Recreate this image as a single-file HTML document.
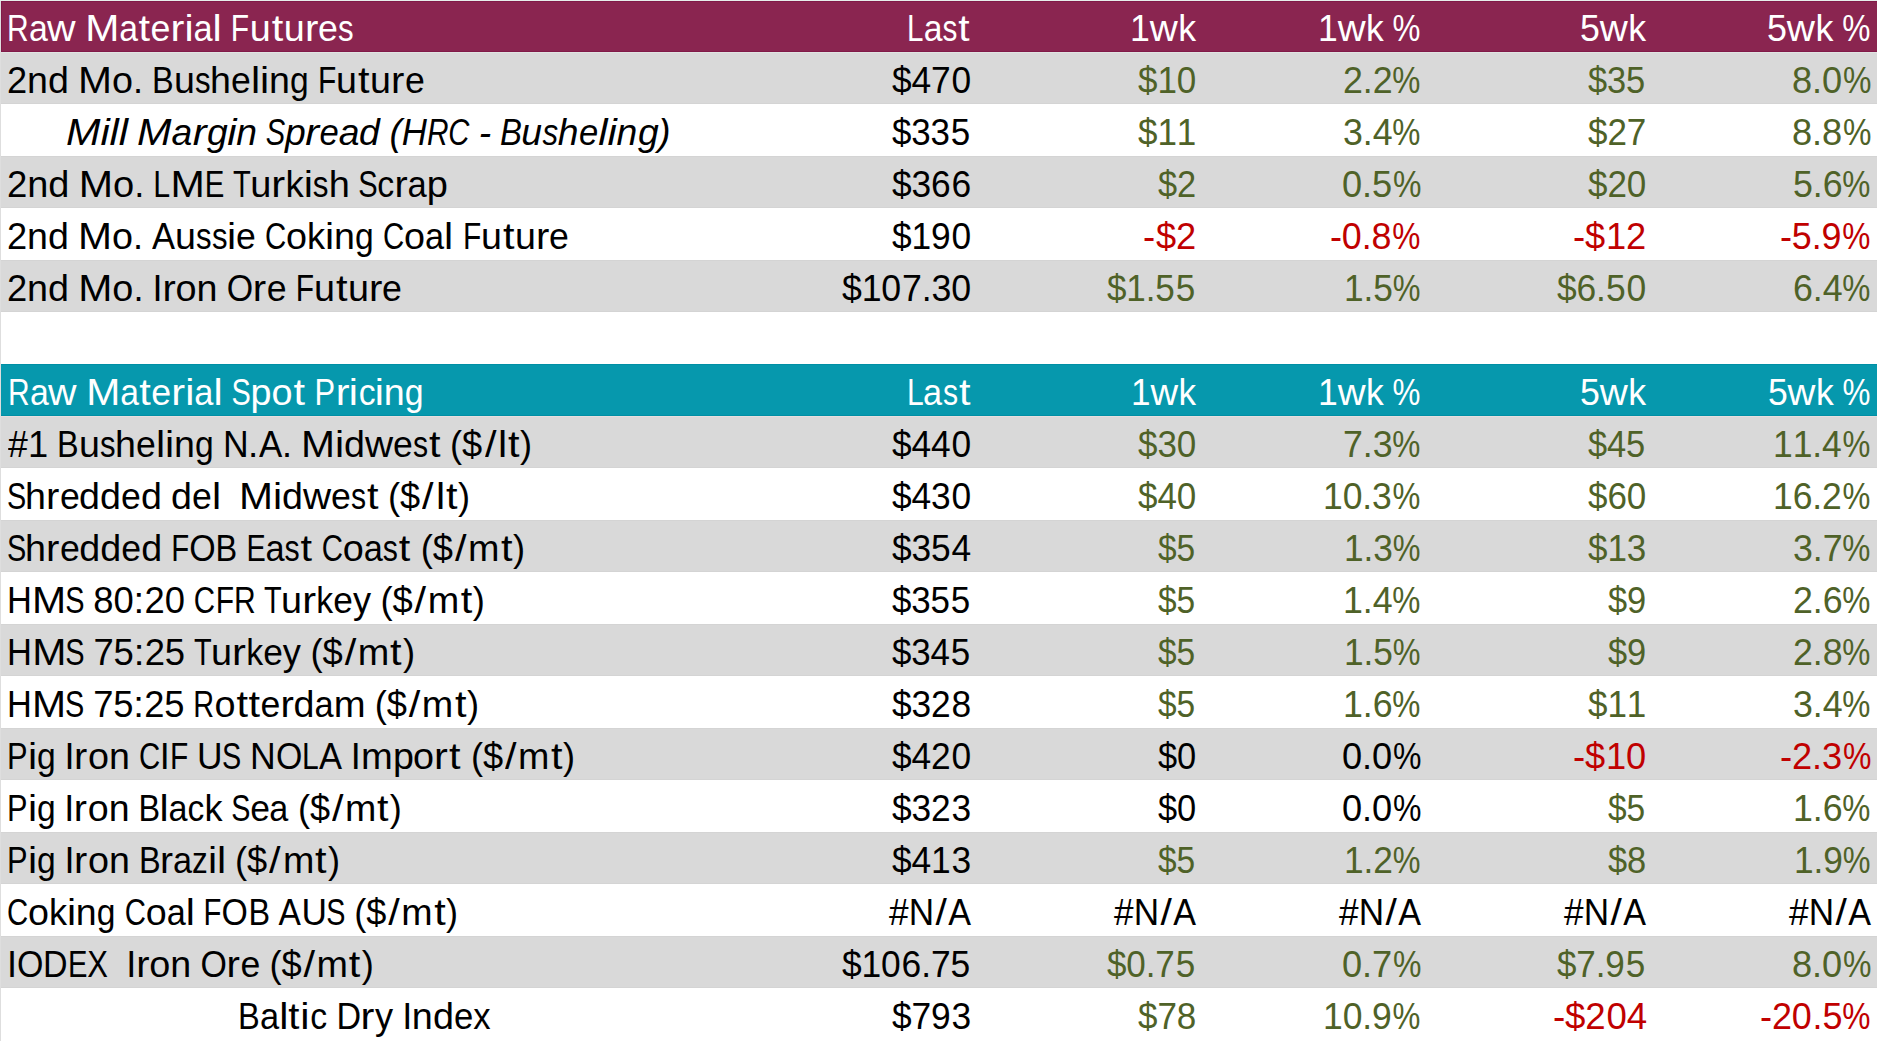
<!DOCTYPE html>
<html lang="en"><head><meta charset="utf-8"><title>Raw Material Futures &amp; Spot Pricing</title>
<style>
html,body{margin:0;padding:0;background:#fff;}
body{position:relative;width:1877px;height:1041px;overflow:hidden;}
.bg{position:absolute;right:0;}
.t{position:absolute;white-space:pre;font-family:'Liberation Sans', Arial, sans-serif;font-size:36px;line-height:52px;height:52px;}
.t>span{display:inline-block;}
.l>span{transform-origin:0 38px;}
.r{text-align:right;}
.r>span{transform-origin:100% 38px;}
.i{font-style:italic;}
.t span span{display:inline-block;transform-origin:0 50%;}
</style></head><body>
<div style="position:absolute;left:0;top:0;width:1px;height:1041px;background:#DEDEDE"></div>
<div style="position:absolute;left:0;top:0;right:0;height:1px;background:#E6EEEA"></div>
<div class="bg" style="top:1px;height:51px;left:1px;background:#811A48"></div>
<div class="bg" style="top:2px;height:49px;left:2px;background:#8A2550"></div>
<div class="bg" style="top:52px;height:1px;left:1px;background:#E0E4E2"></div>
<div class="bg" style="top:53px;height:51px;left:1px;background:#D9D9D9"></div>
<div class="bg" style="top:103px;height:1px;left:1px;background:#D4D4D4"></div>
<div class="bg" style="top:156px;height:52px;left:1px;background:#D9D9D9"></div>
<div class="bg" style="top:156px;height:1px;left:1px;background:#D4D4D4"></div>
<div class="bg" style="top:207px;height:1px;left:1px;background:#D4D4D4"></div>
<div class="bg" style="top:260px;height:52px;left:1px;background:#D9D9D9"></div>
<div class="bg" style="top:260px;height:1px;left:1px;background:#D4D4D4"></div>
<div class="bg" style="top:311px;height:1px;left:1px;background:#D4D4D4"></div>
<div class="bg" style="top:364px;height:52px;left:1px;background:#008FA5"></div>
<div class="bg" style="top:365px;height:50px;left:1px;background:#0698AD"></div>
<div class="bg" style="top:416px;height:1px;left:1px;background:#E6DFDF"></div>
<div class="bg" style="top:417px;height:51px;left:1px;background:#D9D9D9"></div>
<div class="bg" style="top:467px;height:1px;left:1px;background:#D4D4D4"></div>
<div class="bg" style="top:520px;height:52px;left:1px;background:#D9D9D9"></div>
<div class="bg" style="top:520px;height:1px;left:1px;background:#D4D4D4"></div>
<div class="bg" style="top:571px;height:1px;left:1px;background:#D4D4D4"></div>
<div class="bg" style="top:624px;height:52px;left:1px;background:#D9D9D9"></div>
<div class="bg" style="top:624px;height:1px;left:1px;background:#D4D4D4"></div>
<div class="bg" style="top:675px;height:1px;left:1px;background:#D4D4D4"></div>
<div class="bg" style="top:728px;height:52px;left:1px;background:#D9D9D9"></div>
<div class="bg" style="top:728px;height:1px;left:1px;background:#D4D4D4"></div>
<div class="bg" style="top:779px;height:1px;left:1px;background:#D4D4D4"></div>
<div class="bg" style="top:832px;height:52px;left:1px;background:#D9D9D9"></div>
<div class="bg" style="top:832px;height:1px;left:1px;background:#D4D4D4"></div>
<div class="bg" style="top:883px;height:1px;left:1px;background:#D4D4D4"></div>
<div class="bg" style="top:936px;height:52px;left:1px;background:#D9D9D9"></div>
<div class="bg" style="top:936px;height:1px;left:1px;background:#D4D4D4"></div>
<div class="bg" style="top:987px;height:1px;left:1px;background:#D4D4D4"></div>
<div class="t l" style="left:6.994px;top:3px;color:#FFFFFF"><span style="transform:scale(1.003,1)"><span style="transform:scaleX(.831);margin-right:-4.406px">R</span><span style="transform:scaleX(.938);margin-right:-1.234px">a</span><span style="transform:scaleX(1.094);margin-right:2.453px">w</span><span style="transform:scaleX(.899);margin-right:-1.016px"> </span><span style="transform:scaleX(1.134);margin-right:4.016px">M</span><span style="transform:scaleX(.934);margin-right:-1.328px">a</span><span style="transform:scaleX(1.15);margin-left:.686px;margin-right:2.189px">t</span><span style="transform:scaleX(.989);margin-right:-.219px">e</span><span style="transform:scaleX(1.15);margin-left:.038px;margin-right:1.837px">r</span><span style="transform:scaleX(1.141);margin-right:1.125px">i</span><span style="transform:scaleX(.952);margin-right:-.969px">a</span><span style="transform:scaleX(1.143);margin-right:1.141px">l</span><span style="transform:scaleX(.899);margin-right:-1.016px"> </span><span style="transform:scaleX(.831);margin-right:-3.719px">F</span><span style="transform:scaleX(1.044);margin-right:.875px">u</span><span style="transform:scaleX(1.15);margin-left:.905px;margin-right:2.407px">t</span><span style="transform:scaleX(1.044);margin-right:.875px">u</span><span style="transform:scaleX(1.113);margin-right:1.359px">r</span><span style="transform:scaleX(.988);margin-right:-.234px">e</span><span style="transform:scaleX(.865);margin-right:-2.422px">s</span></span></div>
<div class="t r" style="right:907px;top:3px;color:#FFFFFF"><span style="transform:scale(.984,1)"><span style="transform:scaleX(.835);margin-right:-3.312px">L</span><span style="transform:scaleX(.952);margin-right:-.969px">a</span><span style="transform:scaleX(.84);margin-right:-2.875px">s</span><span style="transform:scaleX(1.15);margin-left:.913px;margin-right:2.415px">t</span></span></div>
<div class="t r" style="right:681px;top:3px;color:#FFFFFF"><span style="transform:scale(.985,1)"><span style="transform:scaleX(1.006);margin-right:.125px">1</span><span style="transform:scaleX(1.094);margin-right:2.453px">w</span><span style="transform:scaleX(1.006);margin-right:.109px">k</span></span></div>
<div class="t r" style="right:457px;top:3px;color:#FFFFFF"><span style="transform:scale(.98,1)"><span style="transform:scaleX(1.006);margin-right:.125px">1</span><span style="transform:scaleX(1.094);margin-right:2.453px">w</span><span style="transform:scaleX(1.005);margin-right:.094px">k</span><span style="transform:scaleX(.899);margin-right:-1.016px"> </span><span style="transform:scaleX(.889);margin-right:-3.562px">%</span></span></div>
<div class="t r" style="right:231px;top:3px;color:#FFFFFF"><span style="transform:scale(.985,1)"><span style="transform:scaleX(1.006);margin-right:.125px">5</span><span style="transform:scaleX(1.094);margin-right:2.453px">w</span><span style="transform:scaleX(1.006);margin-right:.109px">k</span></span></div>
<div class="t r" style="right:7px;top:3px;color:#FFFFFF"><span style="transform:scale(.99,1)"><span style="transform:scaleX(1.006);margin-right:.125px">5</span><span style="transform:scaleX(1.094);margin-right:2.453px">w</span><span style="transform:scaleX(1.005);margin-right:.094px">k</span><span style="transform:scaleX(.899);margin-right:-1.016px"> </span><span style="transform:scaleX(.889);margin-right:-3.562px">%</span></span></div>
<div class="t l" style="left:7px;top:55px;color:#000000"><span style="transform:scale(1,1)"><span style="transform:scaleX(1.006);margin-right:.125px">2</span><span style="transform:scaleX(1.044);margin-right:.891px">n</span><span style="transform:scaleX(1.044);margin-right:.875px">d</span><span style="transform:scaleX(.899);margin-right:-1.016px"> </span><span style="transform:scaleX(1.134);margin-right:4.016px">M</span><span style="transform:scaleX(1.048);margin-right:.953px">o</span><span style="transform:scaleX(1.003);margin-right:.031px">.</span><span style="transform:scaleX(.899);margin-right:-1.016px"> </span><span style="transform:scaleX(.902);margin-right:-2.359px">B</span><span style="transform:scaleX(1.044);margin-right:.875px">u</span><span style="transform:scaleX(.865);margin-right:-2.438px">s</span><span style="transform:scaleX(1.044);margin-right:.875px">h</span><span style="transform:scaleX(.988);margin-right:-.234px">e</span><span style="transform:scaleX(1.143);margin-right:1.141px">l</span><span style="transform:scaleX(1.141);margin-right:1.125px">i</span><span style="transform:scaleX(1.044);margin-right:.891px">n</span><span style="transform:scaleX(.934);margin-right:-1.312px">g</span><span style="transform:scaleX(.899);margin-right:-1.016px"> </span><span style="transform:scaleX(.832);margin-right:-3.703px">F</span><span style="transform:scaleX(1.044);margin-right:.875px">u</span><span style="transform:scaleX(1.15);margin-left:.905px;margin-right:2.407px">t</span><span style="transform:scaleX(1.044);margin-right:.875px">u</span><span style="transform:scaleX(1.112);margin-right:1.344px">r</span><span style="transform:scaleX(.99);margin-right:-.203px">e</span></span></div>
<div class="t r" style="right:906.025px;top:55px;color:#000000"><span style="transform:scale(.975,1)"><span style="transform:scaleX(1.006);margin-right:.125px">$</span><span style="transform:scaleX(1.007);margin-right:.141px">4</span><span style="transform:scaleX(1.007);margin-right:.141px">7</span><span style="transform:scaleX(1.008);margin-right:.156px">0</span></span></div>
<div class="t r" style="right:680.034px;top:55px;color:#4F6228"><span style="transform:scale(.966,1)"><span style="transform:scaleX(1.006);margin-right:.125px">$</span><span style="transform:scaleX(1.007);margin-right:.141px">1</span><span style="transform:scaleX(1.008);margin-right:.156px">0</span></span></div>
<div class="t r" style="right:455.987px;top:55px;color:#4F6228"><span style="transform:scale(.987,1)"><span style="transform:scaleX(1.006);margin-right:.125px">2</span><span style="transform:scaleX(1.003);margin-right:.031px">.</span><span style="transform:scaleX(1.007);margin-right:.141px">2</span><span style="transform:scaleX(.889);margin-right:-3.547px">%</span></span></div>
<div class="t r" style="right:231.051px;top:55px;color:#4F6228"><span style="transform:scale(.949,1)"><span style="transform:scaleX(1.006);margin-right:.125px">$</span><span style="transform:scaleX(1.007);margin-right:.141px">3</span><span style="transform:scaleX(1.008);margin-right:.156px">5</span></span></div>
<div class="t r" style="right:5.974px;top:55px;color:#4F6228"><span style="transform:scale(1,1)"><span style="transform:scaleX(1.006);margin-right:.125px">8</span><span style="transform:scaleX(1.003);margin-right:.031px">.</span><span style="transform:scaleX(1.007);margin-right:.141px">0</span><span style="transform:scaleX(.889);margin-right:-3.547px">%</span></span></div>
<div class="t l i" style="left:65.785px;top:107px;color:#000000"><span style="transform:scale(1.014,1)"><span style="transform:scaleX(1.134);margin-right:4.016px">M</span><span style="transform:scaleX(1.143);margin-right:1.141px">i</span><span style="transform:scaleX(1.141);margin-right:1.125px">l</span><span style="transform:scaleX(1.143);margin-right:1.141px">l</span><span style="transform:scaleX(.897);margin-right:-1.031px"> </span><span style="transform:scaleX(1.134);margin-right:4.031px">M</span><span style="transform:scaleX(1.022);margin-right:.438px">a</span><span style="transform:scaleX(1.137);margin-right:1.641px">r</span><span style="transform:scaleX(1.021);margin-right:.422px">g</span><span style="transform:scaleX(1.143);margin-right:1.141px">i</span><span style="transform:scaleX(1.021);margin-right:.422px">n</span><span style="transform:scaleX(.899);margin-right:-1.016px"> </span><span style="transform:scaleX(.8);margin-left:-.606px;margin-right:-5.409px">S</span><span style="transform:scaleX(1.021);margin-right:.422px">p</span><span style="transform:scaleX(1.137);margin-right:1.641px">r</span><span style="transform:scaleX(.949);margin-right:-1.016px">e</span><span style="transform:scaleX(1.021);margin-right:.422px">a</span><span style="transform:scaleX(1.022);margin-right:.438px">d</span><span style="transform:scaleX(.899);margin-right:-1.016px"> </span><span style="transform:scaleX(1.005);margin-right:.062px">(</span><span style="transform:scaleX(.954);margin-right:-1.203px">H</span><span style="transform:scaleX(.817);margin-right:-4.75px">R</span><span style="transform:scaleX(.8);margin-right:-5.202px">C</span><span style="transform:scaleX(.899);margin-right:-1.016px"> </span><span style="transform:scaleX(1.016);margin-right:.188px">-</span><span style="transform:scaleX(.899);margin-right:-1.016px"> </span><span style="transform:scaleX(.901);margin-right:-2.375px">B</span><span style="transform:scaleX(1.022);margin-right:.438px">u</span><span style="transform:scaleX(.86);margin-right:-2.516px">s</span><span style="transform:scaleX(1.021);margin-right:.422px">h</span><span style="transform:scaleX(.949);margin-right:-1.016px">e</span><span style="transform:scaleX(1.141);margin-right:1.125px">l</span><span style="transform:scaleX(1.143);margin-right:1.141px">i</span><span style="transform:scaleX(1.021);margin-right:.422px">n</span><span style="transform:scaleX(1.022);margin-right:.438px">g</span><span style="transform:scaleX(1.007);margin-right:.078px">)</span></span></div>
<div class="t r" style="right:907.038px;top:107px;color:#000000"><span style="transform:scale(.963,1)"><span style="transform:scaleX(1.006);margin-right:.125px">$</span><span style="transform:scaleX(1.007);margin-right:.141px">3</span><span style="transform:scaleX(1.007);margin-right:.141px">3</span><span style="transform:scaleX(1.008);margin-right:.156px">5</span></span></div>
<div class="t r" style="right:680.034px;top:107px;color:#4F6228"><span style="transform:scale(.966,1)"><span style="transform:scaleX(1.006);margin-right:.125px">$</span><span style="transform:scaleX(1.007);margin-right:.141px">1</span><span style="transform:scaleX(1.008);margin-right:.156px">1</span></span></div>
<div class="t r" style="right:455.987px;top:107px;color:#4F6228"><span style="transform:scale(.987,1)"><span style="transform:scaleX(1.006);margin-right:.125px">3</span><span style="transform:scaleX(1.003);margin-right:.031px">.</span><span style="transform:scaleX(1.007);margin-right:.141px">4</span><span style="transform:scaleX(.889);margin-right:-3.547px">%</span></span></div>
<div class="t r" style="right:230.034px;top:107px;color:#4F6228"><span style="transform:scale(.966,1)"><span style="transform:scaleX(1.006);margin-right:.125px">$</span><span style="transform:scaleX(1.007);margin-right:.141px">2</span><span style="transform:scaleX(1.008);margin-right:.156px">7</span></span></div>
<div class="t r" style="right:5.974px;top:107px;color:#4F6228"><span style="transform:scale(1,1)"><span style="transform:scaleX(1.006);margin-right:.125px">8</span><span style="transform:scaleX(1.003);margin-right:.031px">.</span><span style="transform:scaleX(1.007);margin-right:.141px">8</span><span style="transform:scaleX(.889);margin-right:-3.547px">%</span></span></div>
<div class="t l" style="left:6.991px;top:159px;color:#000000"><span style="transform:scale(1.009,1)"><span style="transform:scaleX(1.006);margin-right:.125px">2</span><span style="transform:scaleX(1.044);margin-right:.891px">n</span><span style="transform:scaleX(1.044);margin-right:.875px">d</span><span style="transform:scaleX(.899);margin-right:-1.016px"> </span><span style="transform:scaleX(1.134);margin-right:4.016px">M</span><span style="transform:scaleX(1.048);margin-right:.953px">o</span><span style="transform:scaleX(1.003);margin-right:.031px">.</span><span style="transform:scaleX(.899);margin-right:-1.016px"> </span><span style="transform:scaleX(.835);margin-right:-3.297px">L</span><span style="transform:scaleX(1.134);margin-right:4.031px">M</span><span style="transform:scaleX(.809);margin-right:-4.594px">E</span><span style="transform:scaleX(.899);margin-right:-1.016px"> </span><span style="transform:scaleX(.8);margin-left:-.339px;margin-right:-4.739px">T</span><span style="transform:scaleX(1.044);margin-right:.875px">u</span><span style="transform:scaleX(1.15);margin-left:.038px;margin-right:1.837px">r</span><span style="transform:scaleX(1.005);margin-right:.094px">k</span><span style="transform:scaleX(1.143);margin-right:1.141px">i</span><span style="transform:scaleX(.865);margin-right:-2.438px">s</span><span style="transform:scaleX(1.044);margin-right:.875px">h</span><span style="transform:scaleX(.899);margin-right:-1.016px"> </span><span style="transform:scaleX(.8);margin-left:-.466px;margin-right:-5.269px">S</span><span style="transform:scaleX(.935);margin-right:-1.172px">c</span><span style="transform:scaleX(1.089);margin-right:1.062px">r</span><span style="transform:scaleX(.952);margin-right:-.969px">a</span><span style="transform:scaleX(1.044);margin-right:.891px">p</span></span></div>
<div class="t r" style="right:906.025px;top:159px;color:#000000"><span style="transform:scale(.975,1)"><span style="transform:scaleX(1.006);margin-right:.125px">$</span><span style="transform:scaleX(1.007);margin-right:.141px">3</span><span style="transform:scaleX(1.007);margin-right:.141px">6</span><span style="transform:scaleX(1.008);margin-right:.156px">6</span></span></div>
<div class="t r" style="right:681.051px;top:159px;color:#4F6228"><span style="transform:scale(.949,1)"><span style="transform:scaleX(1.006);margin-right:.125px">$</span><span style="transform:scaleX(1.008);margin-right:.156px">2</span></span></div>
<div class="t r" style="right:455.974px;top:159px;color:#4F6228"><span style="transform:scale(1,1)"><span style="transform:scaleX(1.006);margin-right:.125px">0</span><span style="transform:scaleX(1.003);margin-right:.031px">.</span><span style="transform:scaleX(1.007);margin-right:.141px">5</span><span style="transform:scaleX(.889);margin-right:-3.547px">%</span></span></div>
<div class="t r" style="right:230.034px;top:159px;color:#4F6228"><span style="transform:scale(.966,1)"><span style="transform:scaleX(1.006);margin-right:.125px">$</span><span style="transform:scaleX(1.007);margin-right:.141px">2</span><span style="transform:scaleX(1.008);margin-right:.156px">0</span></span></div>
<div class="t r" style="right:5.987px;top:159px;color:#4F6228"><span style="transform:scale(.987,1)"><span style="transform:scaleX(1.006);margin-right:.125px">5</span><span style="transform:scaleX(1.003);margin-right:.031px">.</span><span style="transform:scaleX(1.007);margin-right:.141px">6</span><span style="transform:scaleX(.889);margin-right:-3.547px">%</span></span></div>
<div class="t l" style="left:7px;top:211px;color:#000000"><span style="transform:scale(1,1)"><span style="transform:scaleX(1.006);margin-right:.125px">2</span><span style="transform:scaleX(1.044);margin-right:.891px">n</span><span style="transform:scaleX(1.044);margin-right:.875px">d</span><span style="transform:scaleX(.899);margin-right:-1.016px"> </span><span style="transform:scaleX(1.134);margin-right:4.016px">M</span><span style="transform:scaleX(1.048);margin-right:.953px">o</span><span style="transform:scaleX(1.003);margin-right:.031px">.</span><span style="transform:scaleX(.899);margin-right:-1.016px"> </span><span style="transform:scaleX(.959);margin-right:-.984px">A</span><span style="transform:scaleX(1.044);margin-right:.875px">u</span><span style="transform:scaleX(.865);margin-right:-2.438px">s</span><span style="transform:scaleX(.865);margin-right:-2.438px">s</span><span style="transform:scaleX(1.143);margin-right:1.141px">i</span><span style="transform:scaleX(.988);margin-right:-.234px">e</span><span style="transform:scaleX(.899);margin-right:-1.016px"> </span><span style="transform:scaleX(.816);margin-right:-4.781px">C</span><span style="transform:scaleX(1.048);margin-right:.953px">o</span><span style="transform:scaleX(1.005);margin-right:.094px">k</span><span style="transform:scaleX(1.143);margin-right:1.141px">i</span><span style="transform:scaleX(1.044);margin-right:.875px">n</span><span style="transform:scaleX(.935);margin-right:-1.297px">g</span><span style="transform:scaleX(.897);margin-right:-1.031px"> </span><span style="transform:scaleX(.816);margin-right:-4.781px">C</span><span style="transform:scaleX(1.048);margin-right:.969px">o</span><span style="transform:scaleX(.952);margin-right:-.969px">a</span><span style="transform:scaleX(1.141);margin-right:1.125px">l</span><span style="transform:scaleX(.899);margin-right:-1.016px"> </span><span style="transform:scaleX(.831);margin-right:-3.719px">F</span><span style="transform:scaleX(1.044);margin-right:.875px">u</span><span style="transform:scaleX(1.15);margin-left:.913px;margin-right:2.415px">t</span><span style="transform:scaleX(1.044);margin-right:.875px">u</span><span style="transform:scaleX(1.112);margin-right:1.344px">r</span><span style="transform:scaleX(.989);margin-right:-.219px">e</span></span></div>
<div class="t r" style="right:906.025px;top:211px;color:#000000"><span style="transform:scale(.975,1)"><span style="transform:scaleX(1.006);margin-right:.125px">$</span><span style="transform:scaleX(1.007);margin-right:.141px">1</span><span style="transform:scaleX(1.007);margin-right:.141px">9</span><span style="transform:scaleX(1.008);margin-right:.156px">0</span></span></div>
<div class="t r" style="right:681px;top:211px;color:#C00000"><span style="transform:scale(1,1)"><span style="transform:scaleX(1.014);margin-right:.172px">-</span><span style="transform:scaleX(1.007);margin-right:.141px">$</span><span style="transform:scaleX(1.008);margin-right:.156px">2</span></span></div>
<div class="t r" style="right:457px;top:211px;color:#C00000"><span style="transform:scale(.989,1)"><span style="transform:scaleX(1.014);margin-right:.172px">-</span><span style="transform:scaleX(1.007);margin-right:.141px">0</span><span style="transform:scaleX(1.003);margin-right:.031px">.</span><span style="transform:scaleX(1.007);margin-right:.141px">8</span><span style="transform:scaleX(.889);margin-right:-3.547px">%</span></span></div>
<div class="t r" style="right:231px;top:211px;color:#C00000"><span style="transform:scale(1,1)"><span style="transform:scaleX(1.014);margin-right:.172px">-</span><span style="transform:scaleX(1.007);margin-right:.141px">$</span><span style="transform:scaleX(1.007);margin-right:.141px">1</span><span style="transform:scaleX(1.008);margin-right:.156px">2</span></span></div>
<div class="t r" style="right:7px;top:211px;color:#C00000"><span style="transform:scale(.989,1)"><span style="transform:scaleX(1.014);margin-right:.172px">-</span><span style="transform:scaleX(1.007);margin-right:.141px">5</span><span style="transform:scaleX(1.003);margin-right:.031px">.</span><span style="transform:scaleX(1.007);margin-right:.141px">9</span><span style="transform:scaleX(.889);margin-right:-3.547px">%</span></span></div>
<div class="t l" style="left:6.997px;top:263px;color:#000000"><span style="transform:scale(1.003,1)"><span style="transform:scaleX(1.006);margin-right:.125px">2</span><span style="transform:scaleX(1.044);margin-right:.891px">n</span><span style="transform:scaleX(1.044);margin-right:.875px">d</span><span style="transform:scaleX(.899);margin-right:-1.016px"> </span><span style="transform:scaleX(1.134);margin-right:4.016px">M</span><span style="transform:scaleX(1.048);margin-right:.953px">o</span><span style="transform:scaleX(1.003);margin-right:.031px">.</span><span style="transform:scaleX(.899);margin-right:-1.016px"> </span><span style="margin-right:.016px">I</span><span style="transform:scaleX(1.103);margin-right:1.234px">r</span><span style="transform:scaleX(1.048);margin-right:.953px">o</span><span style="transform:scaleX(1.044);margin-right:.875px">n</span><span style="transform:scaleX(.899);margin-right:-1.016px"> </span><span style="transform:scaleX(.94);margin-right:-1.672px">O</span><span style="transform:scaleX(1.113);margin-right:1.359px">r</span><span style="transform:scaleX(.988);margin-right:-.234px">e</span><span style="transform:scaleX(.899);margin-right:-1.016px"> </span><span style="transform:scaleX(.831);margin-right:-3.719px">F</span><span style="transform:scaleX(1.044);margin-right:.875px">u</span><span style="transform:scaleX(1.15);margin-left:.905px;margin-right:2.407px">t</span><span style="transform:scaleX(1.044);margin-right:.891px">u</span><span style="transform:scaleX(1.112);margin-right:1.344px">r</span><span style="transform:scaleX(.989);margin-right:-.219px">e</span></span></div>
<div class="t r" style="right:906.015px;top:263px;color:#000000"><span style="transform:scale(.985,1)"><span style="transform:scaleX(1.006);margin-right:.125px">$</span><span style="transform:scaleX(1.007);margin-right:.141px">1</span><span style="transform:scaleX(1.007);margin-right:.141px">0</span><span style="transform:scaleX(1.007);margin-right:.141px">7</span><span style="transform:scaleX(1.003);margin-right:.031px">.</span><span style="transform:scaleX(1.007);margin-right:.141px">3</span><span style="transform:scaleX(1.008);margin-right:.156px">0</span></span></div>
<div class="t r" style="right:682.033px;top:263px;color:#4F6228"><span style="transform:scale(.967,1)"><span style="transform:scaleX(1.006);margin-right:.125px">$</span><span style="transform:scaleX(1.007);margin-right:.141px">1</span><span style="transform:scaleX(1.003);margin-right:.031px">.</span><span style="transform:scaleX(1.007);margin-right:.141px">5</span><span style="transform:scaleX(1.008);margin-right:.156px">5</span></span></div>
<div class="t r" style="right:455.986px;top:263px;color:#4F6228"><span style="transform:scale(.974,1)"><span style="transform:scaleX(1.006);margin-right:.125px">1</span><span style="transform:scaleX(1.003);margin-right:.031px">.</span><span style="transform:scaleX(1.007);margin-right:.141px">5</span><span style="transform:scaleX(.889);margin-right:-3.547px">%</span></span></div>
<div class="t r" style="right:231.022px;top:263px;color:#4F6228"><span style="transform:scale(.978,1)"><span style="transform:scaleX(1.006);margin-right:.125px">$</span><span style="transform:scaleX(1.007);margin-right:.141px">6</span><span style="transform:scaleX(1.003);margin-right:.031px">.</span><span style="transform:scaleX(1.007);margin-right:.141px">5</span><span style="transform:scaleX(1.008);margin-right:.156px">0</span></span></div>
<div class="t r" style="right:5.987px;top:263px;color:#4F6228"><span style="transform:scale(.987,1)"><span style="transform:scaleX(1.006);margin-right:.125px">6</span><span style="transform:scaleX(1.003);margin-right:.031px">.</span><span style="transform:scaleX(1.007);margin-right:.141px">4</span><span style="transform:scaleX(.889);margin-right:-3.547px">%</span></span></div>
<div class="t l" style="left:7.995px;top:367px;color:#FFFFFF"><span style="transform:scale(1.002,1)"><span style="transform:scaleX(.831);margin-right:-4.406px">R</span><span style="transform:scaleX(.938);margin-right:-1.234px">a</span><span style="transform:scaleX(1.094);margin-right:2.453px">w</span><span style="transform:scaleX(.899);margin-right:-1.016px"> </span><span style="transform:scaleX(1.134);margin-right:4.016px">M</span><span style="transform:scaleX(.934);margin-right:-1.328px">a</span><span style="transform:scaleX(1.15);margin-left:.686px;margin-right:2.189px">t</span><span style="transform:scaleX(.989);margin-right:-.219px">e</span><span style="transform:scaleX(1.15);margin-left:.038px;margin-right:1.837px">r</span><span style="transform:scaleX(1.141);margin-right:1.125px">i</span><span style="transform:scaleX(.952);margin-right:-.969px">a</span><span style="transform:scaleX(1.143);margin-right:1.141px">l</span><span style="transform:scaleX(.899);margin-right:-1.016px"> </span><span style="transform:scaleX(.8);margin-left:-.466px;margin-right:-5.269px">S</span><span style="transform:scaleX(1.044);margin-right:.875px">p</span><span style="transform:scaleX(1.048);margin-right:.953px">o</span><span style="transform:scaleX(1.15);margin-left:.905px;margin-right:2.407px">t</span><span style="transform:scaleX(.899);margin-right:-1.016px"> </span><span style="transform:scaleX(.856);margin-right:-3.453px">P</span><span style="transform:scaleX(1.15);margin-left:.038px;margin-right:1.837px">r</span><span style="transform:scaleX(1.141);margin-right:1.125px">i</span><span style="transform:scaleX(.935);margin-right:-1.172px">c</span><span style="transform:scaleX(1.143);margin-right:1.141px">i</span><span style="transform:scaleX(1.044);margin-right:.875px">n</span><span style="transform:scaleX(.936);margin-right:-1.281px">g</span></span></div>
<div class="t r" style="right:906px;top:367px;color:#FFFFFF"><span style="transform:scale(1,1)"><span style="transform:scaleX(.835);margin-right:-3.312px">L</span><span style="transform:scaleX(.952);margin-right:-.969px">a</span><span style="transform:scaleX(.84);margin-right:-2.875px">s</span><span style="transform:scaleX(1.15);margin-left:.913px;margin-right:2.415px">t</span></span></div>
<div class="t r" style="right:681px;top:367px;color:#FFFFFF"><span style="transform:scale(.969,1)"><span style="transform:scaleX(1.006);margin-right:.125px">1</span><span style="transform:scaleX(1.094);margin-right:2.453px">w</span><span style="transform:scaleX(1.006);margin-right:.109px">k</span></span></div>
<div class="t r" style="right:457px;top:367px;color:#FFFFFF"><span style="transform:scale(.98,1)"><span style="transform:scaleX(1.006);margin-right:.125px">1</span><span style="transform:scaleX(1.094);margin-right:2.453px">w</span><span style="transform:scaleX(1.005);margin-right:.094px">k</span><span style="transform:scaleX(.899);margin-right:-1.016px"> </span><span style="transform:scaleX(.889);margin-right:-3.562px">%</span></span></div>
<div class="t r" style="right:231px;top:367px;color:#FFFFFF"><span style="transform:scale(.985,1)"><span style="transform:scaleX(1.006);margin-right:.125px">5</span><span style="transform:scaleX(1.094);margin-right:2.453px">w</span><span style="transform:scaleX(1.006);margin-right:.109px">k</span></span></div>
<div class="t r" style="right:7px;top:367px;color:#FFFFFF"><span style="transform:scale(.981,1)"><span style="transform:scaleX(1.006);margin-right:.125px">5</span><span style="transform:scaleX(1.094);margin-right:2.453px">w</span><span style="transform:scaleX(1.005);margin-right:.094px">k</span><span style="transform:scaleX(.899);margin-right:-1.016px"> </span><span style="transform:scaleX(.889);margin-right:-3.562px">%</span></span></div>
<div class="t l" style="left:8px;top:419px;color:#000000"><span style="transform:scale(1,1)"><span style="transform:scaleX(.989);margin-right:-.219px">#</span><span style="transform:scaleX(1.007);margin-right:.141px">1</span><span style="transform:scaleX(.899);margin-right:-1.016px"> </span><span style="transform:scaleX(.901);margin-right:-2.375px">B</span><span style="transform:scaleX(1.044);margin-right:.875px">u</span><span style="transform:scaleX(.865);margin-right:-2.422px">s</span><span style="transform:scaleX(1.044);margin-right:.875px">h</span><span style="transform:scaleX(.988);margin-right:-.234px">e</span><span style="transform:scaleX(1.141);margin-right:1.125px">l</span><span style="transform:scaleX(1.143);margin-right:1.141px">i</span><span style="transform:scaleX(1.044);margin-right:.875px">n</span><span style="transform:scaleX(.935);margin-right:-1.297px">g</span><span style="transform:scaleX(.899);margin-right:-1.016px"> </span><span style="transform:scaleX(.988);margin-right:-.312px">N</span><span style="transform:scaleX(1.027);margin-right:.266px">.</span><span style="transform:scaleX(.969);margin-right:-.75px">A</span><span style="margin-right:.016px">.</span><span style="transform:scaleX(.899);margin-right:-1.016px"> </span><span style="transform:scaleX(1.134);margin-right:4.031px">M</span><span style="transform:scaleX(1.141);margin-right:1.125px">i</span><span style="transform:scaleX(1.044);margin-right:.891px">d</span><span style="transform:scaleX(1.081);margin-right:2.094px">w</span><span style="transform:scaleX(.988);margin-right:-.234px">e</span><span style="transform:scaleX(.84);margin-right:-2.875px">s</span><span style="transform:scaleX(1.15);margin-left:.905px;margin-right:2.407px">t</span><span style="transform:scaleX(.899);margin-right:-1.016px"> </span><span style="transform:scaleX(1.005);margin-right:.062px">(</span><span style="transform:scaleX(1.007);margin-right:.141px">$</span><span style="transform:scaleX(1.15);margin-left:1.929px;margin-right:3.431px">/</span><span style="transform:scaleX(1.141);margin-right:1.125px">l</span><span style="transform:scaleX(1.15);margin-left:.905px;margin-right:2.407px">t</span><span style="transform:scaleX(1.008);margin-right:.094px">)</span></span></div>
<div class="t r" style="right:906.025px;top:419px;color:#000000"><span style="transform:scale(.975,1)"><span style="transform:scaleX(1.006);margin-right:.125px">$</span><span style="transform:scaleX(1.007);margin-right:.141px">4</span><span style="transform:scaleX(1.007);margin-right:.141px">4</span><span style="transform:scaleX(1.008);margin-right:.156px">0</span></span></div>
<div class="t r" style="right:680.034px;top:419px;color:#4F6228"><span style="transform:scale(.966,1)"><span style="transform:scaleX(1.006);margin-right:.125px">$</span><span style="transform:scaleX(1.007);margin-right:.141px">3</span><span style="transform:scaleX(1.008);margin-right:.156px">0</span></span></div>
<div class="t r" style="right:455.987px;top:419px;color:#4F6228"><span style="transform:scale(.987,1)"><span style="transform:scaleX(1.006);margin-right:.125px">7</span><span style="transform:scaleX(1.003);margin-right:.031px">.</span><span style="transform:scaleX(1.007);margin-right:.141px">3</span><span style="transform:scaleX(.889);margin-right:-3.547px">%</span></span></div>
<div class="t r" style="right:231.051px;top:419px;color:#4F6228"><span style="transform:scale(.949,1)"><span style="transform:scaleX(1.006);margin-right:.125px">$</span><span style="transform:scaleX(1.007);margin-right:.141px">4</span><span style="transform:scaleX(1.008);margin-right:.156px">5</span></span></div>
<div class="t r" style="right:7px;top:419px;color:#4F6228"><span style="transform:scale(.979,1)"><span style="transform:scaleX(1.006);margin-right:.125px">1</span><span style="transform:scaleX(1.007);margin-right:.141px">1</span><span style="transform:scaleX(1.003);margin-right:.031px">.</span><span style="transform:scaleX(1.007);margin-right:.141px">4</span><span style="transform:scaleX(.889);margin-right:-3.547px">%</span></span></div>
<div class="t l" style="left:7px;top:471px;color:#000000"><span style="transform:scale(1,1)"><span style="transform:scaleX(.8);margin-left:-.466px;margin-right:-5.269px">S</span><span style="transform:scaleX(1.044);margin-right:.875px">h</span><span style="transform:scaleX(1.112);margin-right:1.344px">r</span><span style="transform:scaleX(.989);margin-right:-.219px">e</span><span style="transform:scaleX(1.044);margin-right:.875px">d</span><span style="transform:scaleX(1.044);margin-right:.875px">d</span><span style="transform:scaleX(.988);margin-right:-.234px">e</span><span style="transform:scaleX(1.044);margin-right:.875px">d</span><span style="transform:scaleX(.899);margin-right:-1.016px"> </span><span style="transform:scaleX(1.044);margin-right:.875px">d</span><span style="transform:scaleX(.989);margin-right:-.219px">e</span><span style="transform:scaleX(1.141);margin-right:1.125px">l</span><span style="transform:scaleX(.899);margin-right:-1.016px"> </span><span style="transform:scaleX(.899);margin-right:-1.016px"> </span><span style="transform:scaleX(1.134);margin-right:4.016px">M</span><span style="transform:scaleX(1.143);margin-right:1.141px">i</span><span style="transform:scaleX(1.044);margin-right:.875px">d</span><span style="transform:scaleX(1.081);margin-right:2.094px">w</span><span style="transform:scaleX(.989);margin-right:-.219px">e</span><span style="transform:scaleX(.839);margin-right:-2.891px">s</span><span style="transform:scaleX(1.15);margin-left:.905px;margin-right:2.407px">t</span><span style="transform:scaleX(.899);margin-right:-1.016px"> </span><span style="transform:scaleX(1.007);margin-right:.078px">(</span><span style="transform:scaleX(1.006);margin-right:.125px">$</span><span style="transform:scaleX(1.15);margin-left:1.929px;margin-right:3.431px">/</span><span style="transform:scaleX(1.143);margin-right:1.141px">l</span><span style="transform:scaleX(1.15);margin-left:.905px;margin-right:2.407px">t</span><span style="transform:scaleX(1.007);margin-right:.078px">)</span></span></div>
<div class="t r" style="right:906.025px;top:471px;color:#000000"><span style="transform:scale(.975,1)"><span style="transform:scaleX(1.006);margin-right:.125px">$</span><span style="transform:scaleX(1.007);margin-right:.141px">4</span><span style="transform:scaleX(1.007);margin-right:.141px">3</span><span style="transform:scaleX(1.008);margin-right:.156px">0</span></span></div>
<div class="t r" style="right:680.034px;top:471px;color:#4F6228"><span style="transform:scale(.966,1)"><span style="transform:scaleX(1.006);margin-right:.125px">$</span><span style="transform:scaleX(1.007);margin-right:.141px">4</span><span style="transform:scaleX(1.008);margin-right:.156px">0</span></span></div>
<div class="t r" style="right:457px;top:471px;color:#4F6228"><span style="transform:scale(.979,1)"><span style="transform:scaleX(1.006);margin-right:.125px">1</span><span style="transform:scaleX(1.007);margin-right:.141px">0</span><span style="transform:scaleX(1.003);margin-right:.031px">.</span><span style="transform:scaleX(1.007);margin-right:.141px">3</span><span style="transform:scaleX(.889);margin-right:-3.547px">%</span></span></div>
<div class="t r" style="right:230.034px;top:471px;color:#4F6228"><span style="transform:scale(.966,1)"><span style="transform:scaleX(1.006);margin-right:.125px">$</span><span style="transform:scaleX(1.007);margin-right:.141px">6</span><span style="transform:scaleX(1.008);margin-right:.156px">0</span></span></div>
<div class="t r" style="right:7px;top:471px;color:#4F6228"><span style="transform:scale(.979,1)"><span style="transform:scaleX(1.006);margin-right:.125px">1</span><span style="transform:scaleX(1.007);margin-right:.141px">6</span><span style="transform:scaleX(1.003);margin-right:.031px">.</span><span style="transform:scaleX(1.007);margin-right:.141px">2</span><span style="transform:scaleX(.889);margin-right:-3.547px">%</span></span></div>
<div class="t l" style="left:6.998px;top:523px;color:#000000"><span style="transform:scale(1.002,1)"><span style="transform:scaleX(.8);margin-left:-.466px;margin-right:-5.269px">S</span><span style="transform:scaleX(1.044);margin-right:.875px">h</span><span style="transform:scaleX(1.112);margin-right:1.344px">r</span><span style="transform:scaleX(.989);margin-right:-.219px">e</span><span style="transform:scaleX(1.044);margin-right:.875px">d</span><span style="transform:scaleX(1.044);margin-right:.875px">d</span><span style="transform:scaleX(.988);margin-right:-.234px">e</span><span style="transform:scaleX(1.044);margin-right:.875px">d</span><span style="transform:scaleX(.899);margin-right:-1.016px"> </span><span style="transform:scaleX(.815);margin-right:-4.062px">F</span><span style="transform:scaleX(.941);margin-right:-1.656px">O</span><span style="transform:scaleX(.901);margin-right:-2.375px">B</span><span style="transform:scaleX(.899);margin-right:-1.016px"> </span><span style="transform:scaleX(.8);margin-left:-.223px;margin-right:-5.027px">E</span><span style="transform:scaleX(.952);margin-right:-.969px">a</span><span style="transform:scaleX(.84);margin-right:-2.875px">s</span><span style="transform:scaleX(1.15);margin-left:.905px;margin-right:2.407px">t</span><span style="transform:scaleX(.899);margin-right:-1.016px"> </span><span style="transform:scaleX(.816);margin-right:-4.781px">C</span><span style="transform:scaleX(1.048);margin-right:.953px">o</span><span style="transform:scaleX(.952);margin-right:-.969px">a</span><span style="transform:scaleX(.839);margin-right:-2.891px">s</span><span style="transform:scaleX(1.15);margin-left:.913px;margin-right:2.415px">t</span><span style="transform:scaleX(.897);margin-right:-1.031px"> </span><span style="transform:scaleX(1.007);margin-right:.078px">(</span><span style="transform:scaleX(1.007);margin-right:.141px">$</span><span style="transform:scaleX(1.15);margin-left:1.921px;margin-right:3.423px">/</span><span style="transform:scaleX(1.047);margin-right:1.422px">m</span><span style="transform:scaleX(1.15);margin-left:.905px;margin-right:2.407px">t</span><span style="transform:scaleX(1.008);margin-right:.094px">)</span></span></div>
<div class="t r" style="right:906px;top:523px;color:#000000"><span style="transform:scale(.975,1)"><span style="transform:scaleX(1.006);margin-right:.125px">$</span><span style="transform:scaleX(1.007);margin-right:.141px">3</span><span style="transform:scaleX(1.007);margin-right:.141px">5</span><span style="transform:scaleX(1.008);margin-right:.156px">4</span></span></div>
<div class="t r" style="right:682.077px;top:523px;color:#4F6228"><span style="transform:scale(.923,1)"><span style="transform:scaleX(1.006);margin-right:.125px">$</span><span style="transform:scaleX(1.008);margin-right:.156px">5</span></span></div>
<div class="t r" style="right:455.986px;top:523px;color:#4F6228"><span style="transform:scale(.974,1)"><span style="transform:scaleX(1.006);margin-right:.125px">1</span><span style="transform:scaleX(1.003);margin-right:.031px">.</span><span style="transform:scaleX(1.007);margin-right:.141px">3</span><span style="transform:scaleX(.889);margin-right:-3.547px">%</span></span></div>
<div class="t r" style="right:230.034px;top:523px;color:#4F6228"><span style="transform:scale(.966,1)"><span style="transform:scaleX(1.006);margin-right:.125px">$</span><span style="transform:scaleX(1.007);margin-right:.141px">1</span><span style="transform:scaleX(1.008);margin-right:.156px">3</span></span></div>
<div class="t r" style="right:5.987px;top:523px;color:#4F6228"><span style="transform:scale(.987,1)"><span style="transform:scaleX(1.006);margin-right:.125px">3</span><span style="transform:scaleX(1.003);margin-right:.031px">.</span><span style="transform:scaleX(1.007);margin-right:.141px">7</span><span style="transform:scaleX(.889);margin-right:-3.547px">%</span></span></div>
<div class="t l" style="left:6.992px;top:575px;color:#000000"><span style="transform:scale(1.004,1)"><span style="transform:scaleX(.953);margin-right:-1.219px">H</span><span style="transform:scaleX(1.134);margin-right:4.031px">M</span><span style="transform:scaleX(.8);margin-left:-.466px;margin-right:-5.269px">S</span><span style="transform:scaleX(.899);margin-right:-1.016px"> </span><span style="transform:scaleX(1.007);margin-right:.141px">8</span><span style="transform:scaleX(1.007);margin-right:.141px">0</span><span style="transform:scaleX(1.062);margin-right:.625px">:</span><span style="transform:scaleX(1.007);margin-right:.141px">2</span><span style="transform:scaleX(1.007);margin-right:.141px">0</span><span style="transform:scaleX(.899);margin-right:-1.016px"> </span><span style="transform:scaleX(.816);margin-right:-4.781px">C</span><span style="transform:scaleX(.831);margin-right:-3.719px">F</span><span style="transform:scaleX(.831);margin-right:-4.391px">R</span><span style="transform:scaleX(.899);margin-right:-1.016px"> </span><span style="transform:scaleX(.8);margin-left:-.339px;margin-right:-4.739px">T</span><span style="transform:scaleX(1.044);margin-right:.891px">u</span><span style="transform:scaleX(1.15);margin-left:.038px;margin-right:1.837px">r</span><span style="transform:scaleX(.933);margin-right:-1.203px">k</span><span style="transform:scaleX(.976);margin-right:-.484px">e</span><span style="margin-right:.016px">y</span><span style="transform:scaleX(.899);margin-right:-1.016px"> </span><span style="transform:scaleX(1.005);margin-right:.062px">(</span><span style="transform:scaleX(1.007);margin-right:.141px">$</span><span style="transform:scaleX(1.15);margin-left:1.929px;margin-right:3.431px">/</span><span style="transform:scaleX(1.047);margin-right:1.422px">m</span><span style="transform:scaleX(1.15);margin-left:.905px;margin-right:2.407px">t</span><span style="transform:scaleX(1.007);margin-right:.078px">)</span></span></div>
<div class="t r" style="right:907.038px;top:575px;color:#000000"><span style="transform:scale(.963,1)"><span style="transform:scaleX(1.006);margin-right:.125px">$</span><span style="transform:scaleX(1.007);margin-right:.141px">3</span><span style="transform:scaleX(1.007);margin-right:.141px">5</span><span style="transform:scaleX(1.008);margin-right:.156px">5</span></span></div>
<div class="t r" style="right:682.077px;top:575px;color:#4F6228"><span style="transform:scale(.923,1)"><span style="transform:scaleX(1.006);margin-right:.125px">$</span><span style="transform:scaleX(1.008);margin-right:.156px">5</span></span></div>
<div class="t r" style="right:455.986px;top:575px;color:#4F6228"><span style="transform:scale(.987,1)"><span style="transform:scaleX(1.006);margin-right:.125px">1</span><span style="transform:scaleX(1.003);margin-right:.031px">.</span><span style="transform:scaleX(1.007);margin-right:.141px">4</span><span style="transform:scaleX(.889);margin-right:-3.547px">%</span></span></div>
<div class="t r" style="right:231.051px;top:575px;color:#4F6228"><span style="transform:scale(.949,1)"><span style="transform:scaleX(1.006);margin-right:.125px">$</span><span style="transform:scaleX(1.008);margin-right:.156px">9</span></span></div>
<div class="t r" style="right:5.987px;top:575px;color:#4F6228"><span style="transform:scale(.987,1)"><span style="transform:scaleX(1.006);margin-right:.125px">2</span><span style="transform:scaleX(1.003);margin-right:.031px">.</span><span style="transform:scaleX(1.007);margin-right:.141px">6</span><span style="transform:scaleX(.889);margin-right:-3.547px">%</span></span></div>
<div class="t l" style="left:6.99px;top:627px;color:#000000"><span style="transform:scale(1.005,1)"><span style="transform:scaleX(.953);margin-right:-1.219px">H</span><span style="transform:scaleX(1.134);margin-right:4.031px">M</span><span style="transform:scaleX(.8);margin-left:-.466px;margin-right:-5.269px">S</span><span style="transform:scaleX(.899);margin-right:-1.016px"> </span><span style="transform:scaleX(1.007);margin-right:.141px">7</span><span style="transform:scaleX(1.007);margin-right:.141px">5</span><span style="transform:scaleX(1.062);margin-right:.625px">:</span><span style="transform:scaleX(1.007);margin-right:.141px">2</span><span style="transform:scaleX(1.007);margin-right:.141px">5</span><span style="transform:scaleX(.899);margin-right:-1.016px"> </span><span style="transform:scaleX(.8);margin-left:-.339px;margin-right:-4.739px">T</span><span style="transform:scaleX(1.044);margin-right:.875px">u</span><span style="transform:scaleX(1.15);margin-left:.038px;margin-right:1.837px">r</span><span style="transform:scaleX(.934);margin-right:-1.188px">k</span><span style="transform:scaleX(.976);margin-right:-.484px">e</span><span style="margin-right:.016px">y</span><span style="transform:scaleX(.899);margin-right:-1.016px"> </span><span style="transform:scaleX(1.005);margin-right:.062px">(</span><span style="transform:scaleX(1.007);margin-right:.141px">$</span><span style="transform:scaleX(1.15);margin-left:1.929px;margin-right:3.431px">/</span><span style="transform:scaleX(1.047);margin-right:1.422px">m</span><span style="transform:scaleX(1.15);margin-left:.905px;margin-right:2.407px">t</span><span style="transform:scaleX(1.007);margin-right:.078px">)</span></span></div>
<div class="t r" style="right:907.038px;top:627px;color:#000000"><span style="transform:scale(.963,1)"><span style="transform:scaleX(1.006);margin-right:.125px">$</span><span style="transform:scaleX(1.007);margin-right:.141px">3</span><span style="transform:scaleX(1.007);margin-right:.141px">4</span><span style="transform:scaleX(1.008);margin-right:.156px">5</span></span></div>
<div class="t r" style="right:682.077px;top:627px;color:#4F6228"><span style="transform:scale(.923,1)"><span style="transform:scaleX(1.006);margin-right:.125px">$</span><span style="transform:scaleX(1.008);margin-right:.156px">5</span></span></div>
<div class="t r" style="right:455.986px;top:627px;color:#4F6228"><span style="transform:scale(.974,1)"><span style="transform:scaleX(1.006);margin-right:.125px">1</span><span style="transform:scaleX(1.003);margin-right:.031px">.</span><span style="transform:scaleX(1.007);margin-right:.141px">5</span><span style="transform:scaleX(.889);margin-right:-3.547px">%</span></span></div>
<div class="t r" style="right:231.051px;top:627px;color:#4F6228"><span style="transform:scale(.949,1)"><span style="transform:scaleX(1.006);margin-right:.125px">$</span><span style="transform:scaleX(1.008);margin-right:.156px">9</span></span></div>
<div class="t r" style="right:5.987px;top:627px;color:#4F6228"><span style="transform:scale(.987,1)"><span style="transform:scaleX(1.006);margin-right:.125px">2</span><span style="transform:scaleX(1.003);margin-right:.031px">.</span><span style="transform:scaleX(1.007);margin-right:.141px">8</span><span style="transform:scaleX(.889);margin-right:-3.547px">%</span></span></div>
<div class="t l" style="left:6.996px;top:679px;color:#000000"><span style="transform:scale(1.002,1)"><span style="transform:scaleX(.953);margin-right:-1.219px">H</span><span style="transform:scaleX(1.134);margin-right:4.031px">M</span><span style="transform:scaleX(.8);margin-left:-.466px;margin-right:-5.269px">S</span><span style="transform:scaleX(.899);margin-right:-1.016px"> </span><span style="transform:scaleX(1.007);margin-right:.141px">7</span><span style="transform:scaleX(1.007);margin-right:.141px">5</span><span style="transform:scaleX(1.062);margin-right:.625px">:</span><span style="transform:scaleX(1.007);margin-right:.141px">2</span><span style="transform:scaleX(1.007);margin-right:.141px">5</span><span style="transform:scaleX(.899);margin-right:-1.016px"> </span><span style="transform:scaleX(.8);margin-right:-5.202px">R</span><span style="transform:scaleX(1.048);margin-right:.953px">o</span><span style="transform:scaleX(1.15);margin-left:.444px;margin-right:1.946px">t</span><span style="transform:scaleX(1.15);margin-left:.444px;margin-right:1.946px">t</span><span style="transform:scaleX(.988);margin-right:-.234px">e</span><span style="transform:scaleX(1.112);margin-right:1.344px">r</span><span style="transform:scaleX(1.044);margin-right:.875px">d</span><span style="transform:scaleX(.952);margin-right:-.969px">a</span><span style="transform:scaleX(1.059);margin-right:1.781px">m</span><span style="transform:scaleX(.899);margin-right:-1.016px"> </span><span style="transform:scaleX(1.005);margin-right:.062px">(</span><span style="transform:scaleX(1.007);margin-right:.141px">$</span><span style="transform:scaleX(1.15);margin-left:1.929px;margin-right:3.431px">/</span><span style="transform:scaleX(1.047);margin-right:1.422px">m</span><span style="transform:scaleX(1.15);margin-left:.905px;margin-right:2.407px">t</span><span style="transform:scaleX(1.008);margin-right:.094px">)</span></span></div>
<div class="t r" style="right:906.025px;top:679px;color:#000000"><span style="transform:scale(.975,1)"><span style="transform:scaleX(1.006);margin-right:.125px">$</span><span style="transform:scaleX(1.007);margin-right:.141px">3</span><span style="transform:scaleX(1.007);margin-right:.141px">2</span><span style="transform:scaleX(1.008);margin-right:.156px">8</span></span></div>
<div class="t r" style="right:682.077px;top:679px;color:#4F6228"><span style="transform:scale(.923,1)"><span style="transform:scaleX(1.006);margin-right:.125px">$</span><span style="transform:scaleX(1.008);margin-right:.156px">5</span></span></div>
<div class="t r" style="right:455.986px;top:679px;color:#4F6228"><span style="transform:scale(.987,1)"><span style="transform:scaleX(1.006);margin-right:.125px">1</span><span style="transform:scaleX(1.003);margin-right:.031px">.</span><span style="transform:scaleX(1.007);margin-right:.141px">6</span><span style="transform:scaleX(.889);margin-right:-3.547px">%</span></span></div>
<div class="t r" style="right:230.034px;top:679px;color:#4F6228"><span style="transform:scale(.966,1)"><span style="transform:scaleX(1.006);margin-right:.125px">$</span><span style="transform:scaleX(1.007);margin-right:.141px">1</span><span style="transform:scaleX(1.008);margin-right:.156px">1</span></span></div>
<div class="t r" style="right:5.987px;top:679px;color:#4F6228"><span style="transform:scale(.987,1)"><span style="transform:scaleX(1.006);margin-right:.125px">3</span><span style="transform:scaleX(1.003);margin-right:.031px">.</span><span style="transform:scaleX(1.007);margin-right:.141px">4</span><span style="transform:scaleX(.889);margin-right:-3.547px">%</span></span></div>
<div class="t l" style="left:7px;top:731px;color:#000000"><span style="transform:scale(1,1)"><span style="transform:scaleX(.856);margin-right:-3.469px">P</span><span style="transform:scaleX(1.143);margin-right:1.141px">i</span><span style="transform:scaleX(.935);margin-right:-1.297px">g</span><span style="transform:scaleX(.897);margin-right:-1.031px"> </span><span style="margin-right:.016px">I</span><span style="transform:scaleX(1.103);margin-right:1.234px">r</span><span style="transform:scaleX(1.048);margin-right:.953px">o</span><span style="transform:scaleX(1.044);margin-right:.875px">n</span><span style="transform:scaleX(.899);margin-right:-1.016px"> </span><span style="transform:scaleX(.816);margin-right:-4.781px">C</span><span style="margin-right:.016px">I</span><span style="transform:scaleX(.831);margin-right:-3.719px">F</span><span style="transform:scaleX(.899);margin-right:-1.016px"> </span><span style="transform:scaleX(.982);margin-right:-.469px">U</span><span style="transform:scaleX(.8);margin-left:-.458px;margin-right:-5.261px">S</span><span style="transform:scaleX(.897);margin-right:-1.031px"> </span><span style="transform:scaleX(.989);margin-right:-.297px">N</span><span style="transform:scaleX(.94);margin-right:-1.672px">O</span><span style="transform:scaleX(.835);margin-right:-3.297px">L</span><span style="transform:scaleX(.958);margin-right:-1px">A</span><span style="transform:scaleX(.899);margin-right:-1.016px"> </span><span style="margin-right:.016px">I</span><span style="transform:scaleX(1.06);margin-right:1.797px">m</span><span style="transform:scaleX(1.044);margin-right:.875px">p</span><span style="transform:scaleX(1.048);margin-right:.953px">o</span><span style="transform:scaleX(1.15);margin-left:.038px;margin-right:1.837px">r</span><span style="transform:scaleX(1.15);margin-left:.905px;margin-right:2.407px">t</span><span style="transform:scaleX(.899);margin-right:-1.016px"> </span><span style="transform:scaleX(1.005);margin-right:.062px">(</span><span style="transform:scaleX(1.007);margin-right:.141px">$</span><span style="transform:scaleX(1.15);margin-left:1.929px;margin-right:3.431px">/</span><span style="transform:scaleX(1.047);margin-right:1.422px">m</span><span style="transform:scaleX(1.15);margin-left:.905px;margin-right:2.407px">t</span><span style="transform:scaleX(1.007);margin-right:.078px">)</span></span></div>
<div class="t r" style="right:906.025px;top:731px;color:#000000"><span style="transform:scale(.975,1)"><span style="transform:scaleX(1.006);margin-right:.125px">$</span><span style="transform:scaleX(1.007);margin-right:.141px">4</span><span style="transform:scaleX(1.007);margin-right:.141px">2</span><span style="transform:scaleX(1.008);margin-right:.156px">0</span></span></div>
<div class="t r" style="right:681.051px;top:731px;color:#000000"><span style="transform:scale(.949,1)"><span style="transform:scaleX(1.006);margin-right:.125px">$</span><span style="transform:scaleX(1.008);margin-right:.156px">0</span></span></div>
<div class="t r" style="right:455.974px;top:731px;color:#000000"><span style="transform:scale(1,1)"><span style="transform:scaleX(1.006);margin-right:.125px">0</span><span style="transform:scaleX(1.003);margin-right:.031px">.</span><span style="transform:scaleX(1.007);margin-right:.141px">0</span><span style="transform:scaleX(.889);margin-right:-3.547px">%</span></span></div>
<div class="t r" style="right:231px;top:731px;color:#C00000"><span style="transform:scale(1,1)"><span style="transform:scaleX(1.014);margin-right:.172px">-</span><span style="transform:scaleX(1.007);margin-right:.141px">$</span><span style="transform:scaleX(1.007);margin-right:.141px">1</span><span style="transform:scaleX(1.008);margin-right:.156px">0</span></span></div>
<div class="t r" style="right:6px;top:731px;color:#C00000"><span style="transform:scale(1,1)"><span style="transform:scaleX(1.014);margin-right:.172px">-</span><span style="transform:scaleX(1.007);margin-right:.141px">2</span><span style="transform:scaleX(1.003);margin-right:.031px">.</span><span style="transform:scaleX(1.007);margin-right:.141px">3</span><span style="transform:scaleX(.889);margin-right:-3.547px">%</span></span></div>
<div class="t l" style="left:7.005px;top:783px;color:#000000"><span style="transform:scale(.997,1)"><span style="transform:scaleX(.856);margin-right:-3.469px">P</span><span style="transform:scaleX(1.143);margin-right:1.141px">i</span><span style="transform:scaleX(.935);margin-right:-1.297px">g</span><span style="transform:scaleX(.897);margin-right:-1.031px"> </span><span style="margin-right:.016px">I</span><span style="transform:scaleX(1.103);margin-right:1.234px">r</span><span style="transform:scaleX(1.048);margin-right:.953px">o</span><span style="transform:scaleX(1.044);margin-right:.875px">n</span><span style="transform:scaleX(.899);margin-right:-1.016px"> </span><span style="transform:scaleX(.902);margin-right:-2.359px">B</span><span style="transform:scaleX(1.141);margin-right:1.125px">l</span><span style="transform:scaleX(.952);margin-right:-.969px">a</span><span style="transform:scaleX(.935);margin-right:-1.172px">c</span><span style="transform:scaleX(1.005);margin-right:.094px">k</span><span style="transform:scaleX(.899);margin-right:-1.016px"> </span><span style="transform:scaleX(.8);margin-left:-.466px;margin-right:-5.269px">S</span><span style="transform:scaleX(.988);margin-right:-.234px">e</span><span style="transform:scaleX(.952);margin-right:-.969px">a</span><span style="transform:scaleX(.899);margin-right:-1.016px"> </span><span style="transform:scaleX(1.007);margin-right:.078px">(</span><span style="transform:scaleX(1.007);margin-right:.141px">$</span><span style="transform:scaleX(1.15);margin-left:1.921px;margin-right:3.423px">/</span><span style="transform:scaleX(1.047);margin-right:1.422px">m</span><span style="transform:scaleX(1.15);margin-left:.905px;margin-right:2.407px">t</span><span style="transform:scaleX(1.008);margin-right:.094px">)</span></span></div>
<div class="t r" style="right:906.025px;top:783px;color:#000000"><span style="transform:scale(.975,1)"><span style="transform:scaleX(1.006);margin-right:.125px">$</span><span style="transform:scaleX(1.007);margin-right:.141px">3</span><span style="transform:scaleX(1.007);margin-right:.141px">2</span><span style="transform:scaleX(1.008);margin-right:.156px">3</span></span></div>
<div class="t r" style="right:681.051px;top:783px;color:#000000"><span style="transform:scale(.949,1)"><span style="transform:scaleX(1.006);margin-right:.125px">$</span><span style="transform:scaleX(1.008);margin-right:.156px">0</span></span></div>
<div class="t r" style="right:455.974px;top:783px;color:#000000"><span style="transform:scale(1,1)"><span style="transform:scaleX(1.006);margin-right:.125px">0</span><span style="transform:scaleX(1.003);margin-right:.031px">.</span><span style="transform:scaleX(1.007);margin-right:.141px">0</span><span style="transform:scaleX(.889);margin-right:-3.547px">%</span></span></div>
<div class="t r" style="right:232.077px;top:783px;color:#4F6228"><span style="transform:scale(.923,1)"><span style="transform:scaleX(1.006);margin-right:.125px">$</span><span style="transform:scaleX(1.008);margin-right:.156px">5</span></span></div>
<div class="t r" style="right:5.986px;top:783px;color:#4F6228"><span style="transform:scale(.987,1)"><span style="transform:scaleX(1.006);margin-right:.125px">1</span><span style="transform:scaleX(1.003);margin-right:.031px">.</span><span style="transform:scaleX(1.007);margin-right:.141px">6</span><span style="transform:scaleX(.889);margin-right:-3.547px">%</span></span></div>
<div class="t l" style="left:7px;top:835px;color:#000000"><span style="transform:scale(1,1)"><span style="transform:scaleX(.856);margin-right:-3.469px">P</span><span style="transform:scaleX(1.143);margin-right:1.141px">i</span><span style="transform:scaleX(.935);margin-right:-1.297px">g</span><span style="transform:scaleX(.897);margin-right:-1.031px"> </span><span style="margin-right:.016px">I</span><span style="transform:scaleX(1.103);margin-right:1.234px">r</span><span style="transform:scaleX(1.048);margin-right:.953px">o</span><span style="transform:scaleX(1.044);margin-right:.875px">n</span><span style="transform:scaleX(.899);margin-right:-1.016px"> </span><span style="transform:scaleX(.902);margin-right:-2.359px">B</span><span style="transform:scaleX(1.087);margin-right:1.047px">r</span><span style="transform:scaleX(.952);margin-right:-.969px">a</span><span style="transform:scaleX(.874);margin-right:-2.266px">z</span><span style="transform:scaleX(1.141);margin-right:1.125px">i</span><span style="transform:scaleX(1.143);margin-right:1.141px">l</span><span style="transform:scaleX(.897);margin-right:-1.031px"> </span><span style="transform:scaleX(1.007);margin-right:.078px">(</span><span style="transform:scaleX(1.007);margin-right:.141px">$</span><span style="transform:scaleX(1.15);margin-left:1.921px;margin-right:3.423px">/</span><span style="transform:scaleX(1.047);margin-right:1.422px">m</span><span style="transform:scaleX(1.15);margin-left:.905px;margin-right:2.407px">t</span><span style="transform:scaleX(1.008);margin-right:.094px">)</span></span></div>
<div class="t r" style="right:906.025px;top:835px;color:#000000"><span style="transform:scale(.975,1)"><span style="transform:scaleX(1.006);margin-right:.125px">$</span><span style="transform:scaleX(1.007);margin-right:.141px">4</span><span style="transform:scaleX(1.007);margin-right:.141px">1</span><span style="transform:scaleX(1.008);margin-right:.156px">3</span></span></div>
<div class="t r" style="right:682.077px;top:835px;color:#4F6228"><span style="transform:scale(.923,1)"><span style="transform:scaleX(1.006);margin-right:.125px">$</span><span style="transform:scaleX(1.008);margin-right:.156px">5</span></span></div>
<div class="t r" style="right:455.986px;top:835px;color:#4F6228"><span style="transform:scale(.974,1)"><span style="transform:scaleX(1.006);margin-right:.125px">1</span><span style="transform:scaleX(1.003);margin-right:.031px">.</span><span style="transform:scaleX(1.007);margin-right:.141px">2</span><span style="transform:scaleX(.889);margin-right:-3.547px">%</span></span></div>
<div class="t r" style="right:231.051px;top:835px;color:#4F6228"><span style="transform:scale(.949,1)"><span style="transform:scaleX(1.006);margin-right:.125px">$</span><span style="transform:scaleX(1.008);margin-right:.156px">8</span></span></div>
<div class="t r" style="right:5.986px;top:835px;color:#4F6228"><span style="transform:scale(.974,1)"><span style="transform:scaleX(1.006);margin-right:.125px">1</span><span style="transform:scaleX(1.003);margin-right:.031px">.</span><span style="transform:scaleX(1.007);margin-right:.141px">9</span><span style="transform:scaleX(.889);margin-right:-3.547px">%</span></span></div>
<div class="t l" style="left:7.002px;top:887px;color:#000000"><span style="transform:scale(.998,1)"><span style="transform:scaleX(.816);margin-right:-4.781px">C</span><span style="transform:scaleX(1.048);margin-right:.953px">o</span><span style="transform:scaleX(1.005);margin-right:.094px">k</span><span style="transform:scaleX(1.141);margin-right:1.125px">i</span><span style="transform:scaleX(1.044);margin-right:.875px">n</span><span style="transform:scaleX(.935);margin-right:-1.297px">g</span><span style="transform:scaleX(.899);margin-right:-1.016px"> </span><span style="transform:scaleX(.816);margin-right:-4.781px">C</span><span style="transform:scaleX(1.048);margin-right:.953px">o</span><span style="transform:scaleX(.952);margin-right:-.969px">a</span><span style="transform:scaleX(1.143);margin-right:1.141px">l</span><span style="transform:scaleX(.897);margin-right:-1.031px"> </span><span style="transform:scaleX(.815);margin-right:-4.062px">F</span><span style="transform:scaleX(.941);margin-right:-1.656px">O</span><span style="transform:scaleX(.901);margin-right:-2.375px">B</span><span style="transform:scaleX(.899);margin-right:-1.016px"> </span><span style="transform:scaleX(.933);margin-right:-1.609px">A</span><span style="transform:scaleX(.982);margin-right:-.469px">U</span><span style="transform:scaleX(.8);margin-left:-.466px;margin-right:-5.269px">S</span><span style="transform:scaleX(.899);margin-right:-1.016px"> </span><span style="transform:scaleX(1.007);margin-right:.078px">(</span><span style="transform:scaleX(1.006);margin-right:.125px">$</span><span style="transform:scaleX(1.15);margin-left:1.929px;margin-right:3.431px">/</span><span style="transform:scaleX(1.047);margin-right:1.422px">m</span><span style="transform:scaleX(1.15);margin-left:.905px;margin-right:2.407px">t</span><span style="transform:scaleX(1.008);margin-right:.094px">)</span></span></div>
<div class="t r" style="right:906px;top:887px;color:#000000"><span style="transform:scale(.988,1)"><span style="transform:scaleX(.989);margin-right:-.219px">#</span><span style="transform:scaleX(.988);margin-right:-.312px">N</span><span style="transform:scaleX(1.15);margin-left:1.241px;margin-right:2.743px">/</span><span style="transform:scaleX(.959);margin-right:-.984px">A</span></span></div>
<div class="t r" style="right:681px;top:887px;color:#000000"><span style="transform:scale(.988,1)"><span style="transform:scaleX(.989);margin-right:-.219px">#</span><span style="transform:scaleX(.988);margin-right:-.312px">N</span><span style="transform:scaleX(1.15);margin-left:1.241px;margin-right:2.743px">/</span><span style="transform:scaleX(.959);margin-right:-.984px">A</span></span></div>
<div class="t r" style="right:456px;top:887px;color:#000000"><span style="transform:scale(.988,1)"><span style="transform:scaleX(.989);margin-right:-.219px">#</span><span style="transform:scaleX(.988);margin-right:-.312px">N</span><span style="transform:scaleX(1.15);margin-left:1.241px;margin-right:2.743px">/</span><span style="transform:scaleX(.959);margin-right:-.984px">A</span></span></div>
<div class="t r" style="right:231px;top:887px;color:#000000"><span style="transform:scale(.988,1)"><span style="transform:scaleX(.989);margin-right:-.219px">#</span><span style="transform:scaleX(.988);margin-right:-.312px">N</span><span style="transform:scaleX(1.15);margin-left:1.241px;margin-right:2.743px">/</span><span style="transform:scaleX(.959);margin-right:-.984px">A</span></span></div>
<div class="t r" style="right:6px;top:887px;color:#000000"><span style="transform:scale(.988,1)"><span style="transform:scaleX(.989);margin-right:-.219px">#</span><span style="transform:scaleX(.988);margin-right:-.312px">N</span><span style="transform:scaleX(1.15);margin-left:1.241px;margin-right:2.743px">/</span><span style="transform:scaleX(.959);margin-right:-.984px">A</span></span></div>
<div class="t l" style="left:6.993px;top:939px;color:#000000"><span style="transform:scale(1.002,1)"><span>I</span><span style="transform:scaleX(.941);margin-right:-1.656px">O</span><span style="transform:scaleX(.942);margin-right:-1.516px">D</span><span style="transform:scaleX(.809);margin-right:-4.594px">E</span><span style="transform:scaleX(.86);margin-right:-3.359px">X</span><span style="transform:scaleX(.899);margin-right:-1.016px"> </span><span style="transform:scaleX(.899);margin-right:-1.016px"> </span><span style="margin-right:.016px">I</span><span style="transform:scaleX(1.103);margin-right:1.234px">r</span><span style="transform:scaleX(1.048);margin-right:.953px">o</span><span style="transform:scaleX(1.044);margin-right:.875px">n</span><span style="transform:scaleX(.899);margin-right:-1.016px"> </span><span style="transform:scaleX(.94);margin-right:-1.672px">O</span><span style="transform:scaleX(1.112);margin-right:1.344px">r</span><span style="transform:scaleX(.989);margin-right:-.219px">e</span><span style="transform:scaleX(.899);margin-right:-1.016px"> </span><span style="transform:scaleX(1.005);margin-right:.062px">(</span><span style="transform:scaleX(1.007);margin-right:.141px">$</span><span style="transform:scaleX(1.15);margin-left:1.921px;margin-right:3.423px">/</span><span style="transform:scaleX(1.047);margin-right:1.422px">m</span><span style="transform:scaleX(1.15);margin-left:.913px;margin-right:2.415px">t</span><span style="transform:scaleX(1.007);margin-right:.078px">)</span></span></div>
<div class="t r" style="right:907.023px;top:939px;color:#000000"><span style="transform:scale(.977,1)"><span style="transform:scaleX(1.006);margin-right:.125px">$</span><span style="transform:scaleX(1.007);margin-right:.141px">1</span><span style="transform:scaleX(1.007);margin-right:.141px">0</span><span style="transform:scaleX(1.007);margin-right:.141px">6</span><span style="transform:scaleX(1.003);margin-right:.031px">.</span><span style="transform:scaleX(1.007);margin-right:.141px">7</span><span style="transform:scaleX(1.008);margin-right:.156px">5</span></span></div>
<div class="t r" style="right:682.033px;top:939px;color:#4F6228"><span style="transform:scale(.967,1)"><span style="transform:scaleX(1.006);margin-right:.125px">$</span><span style="transform:scaleX(1.007);margin-right:.141px">0</span><span style="transform:scaleX(1.003);margin-right:.031px">.</span><span style="transform:scaleX(1.007);margin-right:.141px">7</span><span style="transform:scaleX(1.008);margin-right:.156px">5</span></span></div>
<div class="t r" style="right:455.974px;top:939px;color:#4F6228"><span style="transform:scale(1,1)"><span style="transform:scaleX(1.006);margin-right:.125px">0</span><span style="transform:scaleX(1.003);margin-right:.031px">.</span><span style="transform:scaleX(1.007);margin-right:.141px">7</span><span style="transform:scaleX(.889);margin-right:-3.547px">%</span></span></div>
<div class="t r" style="right:232.033px;top:939px;color:#4F6228"><span style="transform:scale(.967,1)"><span style="transform:scaleX(1.006);margin-right:.125px">$</span><span style="transform:scaleX(1.007);margin-right:.141px">7</span><span style="transform:scaleX(1.003);margin-right:.031px">.</span><span style="transform:scaleX(1.007);margin-right:.141px">9</span><span style="transform:scaleX(1.008);margin-right:.156px">5</span></span></div>
<div class="t r" style="right:5.974px;top:939px;color:#4F6228"><span style="transform:scale(1,1)"><span style="transform:scaleX(1.006);margin-right:.125px">8</span><span style="transform:scaleX(1.003);margin-right:.031px">.</span><span style="transform:scaleX(1.007);margin-right:.141px">0</span><span style="transform:scaleX(.889);margin-right:-3.547px">%</span></span></div>
<div class="t l" style="left:237.99px;top:991px;color:#000000"><span style="transform:scale(1.005,1)"><span style="transform:scaleX(.901);margin-right:-2.375px">B</span><span style="transform:scaleX(.952);margin-right:-.969px">a</span><span style="transform:scaleX(1.141);margin-right:1.125px">l</span><span style="transform:scaleX(1.108);margin-right:1.078px">t</span><span style="transform:scaleX(1.15);margin-left:.939px;margin-right:2.139px">i</span><span style="transform:scaleX(.935);margin-right:-1.172px">c</span><span style="transform:scaleX(.899);margin-right:-1.016px"> </span><span style="transform:scaleX(.942);margin-right:-1.516px">D</span><span style="transform:scaleX(1.15);margin-left:.139px;margin-right:1.939px">r</span><span style="margin-right:.016px">y</span><span style="transform:scaleX(.897);margin-right:-1.031px"> </span><span style="margin-right:.016px">I</span><span style="transform:scaleX(1.044);margin-right:.875px">n</span><span style="transform:scaleX(1.044);margin-right:.875px">d</span><span style="transform:scaleX(.959);margin-right:-.828px">e</span><span style="transform:scaleX(.958);margin-right:-.75px">x</span></span></div>
<div class="t r" style="right:906.025px;top:991px;color:#000000"><span style="transform:scale(.975,1)"><span style="transform:scaleX(1.006);margin-right:.125px">$</span><span style="transform:scaleX(1.007);margin-right:.141px">7</span><span style="transform:scaleX(1.007);margin-right:.141px">9</span><span style="transform:scaleX(1.008);margin-right:.156px">3</span></span></div>
<div class="t r" style="right:680.034px;top:991px;color:#4F6228"><span style="transform:scale(.966,1)"><span style="transform:scaleX(1.006);margin-right:.125px">$</span><span style="transform:scaleX(1.007);margin-right:.141px">7</span><span style="transform:scaleX(1.008);margin-right:.156px">8</span></span></div>
<div class="t r" style="right:457px;top:991px;color:#4F6228"><span style="transform:scale(.979,1)"><span style="transform:scaleX(1.006);margin-right:.125px">1</span><span style="transform:scaleX(1.007);margin-right:.141px">0</span><span style="transform:scaleX(1.003);margin-right:.031px">.</span><span style="transform:scaleX(1.007);margin-right:.141px">9</span><span style="transform:scaleX(.889);margin-right:-3.547px">%</span></span></div>
<div class="t r" style="right:229.989px;top:991px;color:#C00000"><span style="transform:scale(1.011,1)"><span style="transform:scaleX(1.014);margin-right:.172px">-</span><span style="transform:scaleX(1.007);margin-right:.141px">$</span><span style="transform:scaleX(1.007);margin-right:.141px">2</span><span style="transform:scaleX(1.007);margin-right:.141px">0</span><span style="transform:scaleX(1.008);margin-right:.156px">4</span></span></div>
<div class="t r" style="right:7px;top:991px;color:#C00000"><span style="transform:scale(.991,1)"><span style="transform:scaleX(1.014);margin-right:.172px">-</span><span style="transform:scaleX(1.007);margin-right:.141px">2</span><span style="transform:scaleX(1.007);margin-right:.141px">0</span><span style="transform:scaleX(1.003);margin-right:.031px">.</span><span style="transform:scaleX(1.007);margin-right:.141px">5</span><span style="transform:scaleX(.889);margin-right:-3.547px">%</span></span></div>
</body></html>
